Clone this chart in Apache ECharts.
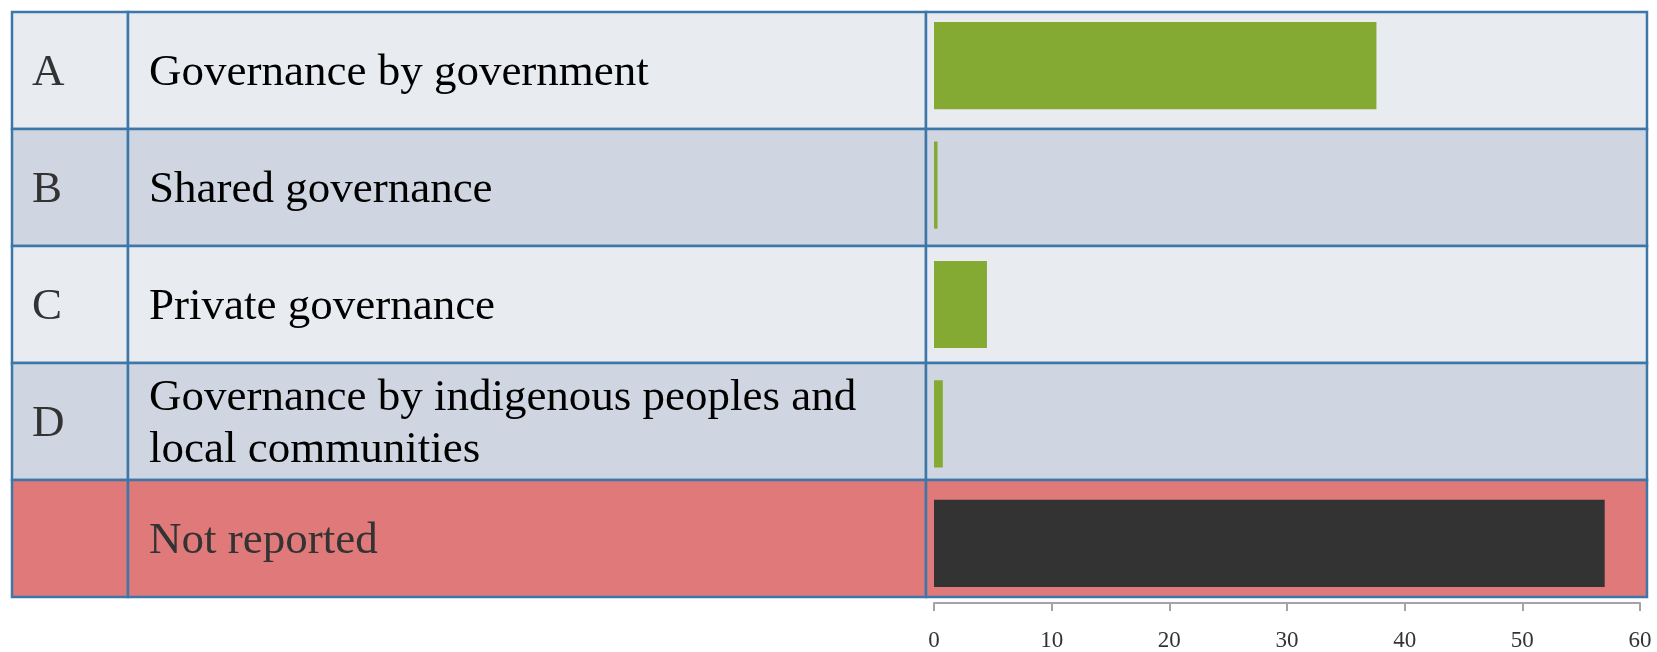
<!DOCTYPE html>
<html>
	<head>
		<meta charset="UTF-8">
		<title>Governance types</title>
		<script src="https://cdn.jsdelivr.net/npm/echarts@6/dist/echarts.min.js"></script>
	</head>
	<body style="margin:0;background:#fff;">
		<div id="chart" style="width:1657px;height:652px;"></div>
		<script>
			// data
			var codes = ['A', 'B', 'C', 'D', ''];
			var labels = ['Governance by government', 'Shared governance', 'Private governance',
				'Governance by indigenous peoples and\nlocal communities', 'Not reported'];
			var values = [37.6, 0.3, 4.5, 0.75, 57];
			var xMin = 0, xMax = 60, xStep = 10;

			var serif = '"Liberation Serif", "DejaVu Serif", serif';
			var border = '#3d77a9';

			// table rows behind the bars
			function renderRow(params, api) {
				var i = api.value(1);
				var cs = params.coordSys;
				var h = api.size([0, 1])[1];
				var yc = api.coord([0, i])[1];
				var y0 = yc - h / 2;
				var notReported = i === labels.length - 1;
				var fill = notReported ? '#e07979' : (i % 2 === 0 ? '#e8ebf0' : '#cfd6e1');
				var txt = notReported ? '#333333' : '#000000';
				var x1 = cs.x + 116, x2 = cs.x + 914, x3 = cs.x + cs.width;
				var cell = function (a, b) {
					return {
						type: 'rect',
						shape: { x: a, y: y0, width: b - a, height: h },
						style: { fill: fill, stroke: border, lineWidth: 2.5 }
					};
				};
				return {
					type: 'group',
					children: [
						cell(cs.x, x1), cell(x1, x2), cell(x2, x3),
						{
							type: 'text',
							style: { text: codes[i], x: cs.x + 20, y: yc + 3, verticalAlign: 'middle',
								fill: '#333333', fontSize: 45, fontFamily: serif }
						},
						{
							type: 'text',
							style: { text: labels[i], x: x1 + 21, y: yc + 3, verticalAlign: 'middle',
								fill: txt, fontSize: 45, lineHeight: 52, fontFamily: serif }
						}
					]
				};
			}

			var option = {
				animation: false,
				grid: [
					{ left: 12, top: 12, width: 1635, height: 585 },
					{ left: 934, top: 6, width: 706, height: 600 }
				],
				xAxis: [
					{ gridIndex: 0, type: 'value', min: 0, max: 1, show: false },
					{
						gridIndex: 1, type: 'value', min: xMin, max: xMax, interval: xStep,
						splitLine: { show: false },
						axisLine: { show: true, lineStyle: { color: '#a3a3a3', width: 2 } },
						axisTick: { show: true, length: 8, lineStyle: { color: '#a3a3a3', width: 2 } },
						axisLabel: { margin: 26, color: '#333', fontSize: 23, fontFamily: serif }
					}
				],
				yAxis: [
					{ gridIndex: 0, type: 'category', data: labels, inverse: true, show: false },
					{ gridIndex: 1, type: 'category', data: labels, inverse: true, show: false }
				],
				series: [
					{
						type: 'custom',
						xAxisIndex: 0, yAxisIndex: 0,
						renderItem: renderRow,
						clip: false,
						z: 1,
						encode: { x: 0, y: 1 },
						data: labels.map(function (l, i) { return [0, i]; })
					},
					{
						type: 'bar',
						xAxisIndex: 1, yAxisIndex: 1,
						barWidth: '73%',
						z: 5,
						itemStyle: {
							color: function (p) {
								return p.dataIndex === values.length - 1 ? '#333333' : '#84aa34';
							}
						},
						data: values
					}
				]
			};

			var myChart = echarts.init(document.getElementById('chart'));
			myChart.setOption(option);
		</script>
	</body>
</html>
